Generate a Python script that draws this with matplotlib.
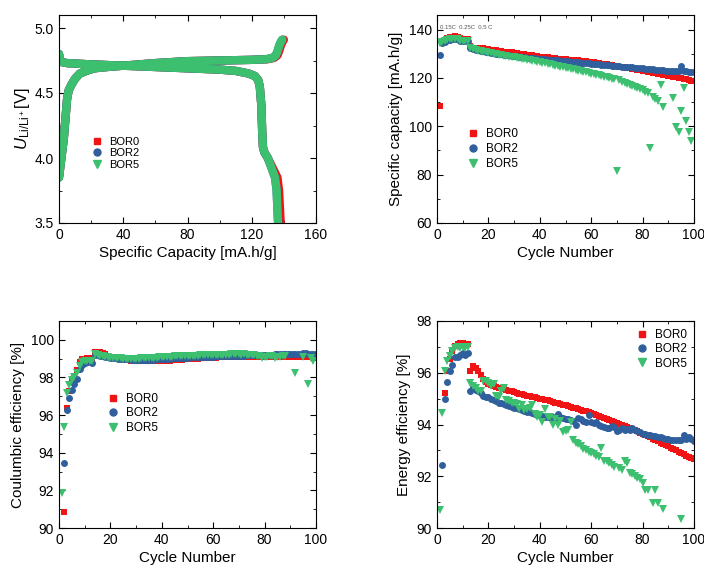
import numpy as np
import matplotlib
matplotlib.use("Agg")
import matplotlib.pyplot as plt
from matplotlib.ticker import AutoMinorLocator, MultipleLocator
from matplotlib.lines import Line2D

plt.rcParams['font.family'] = ['Liberation Sans', 'DejaVu Sans']
plt.rcParams['mathtext.fontset'] = 'custom'
plt.rcParams['mathtext.rm'] = 'Liberation Sans'
plt.rcParams['mathtext.it'] = 'Liberation Sans:italic'

names = ['BOR0', 'BOR2', 'BOR5']
colors = ['#f01414', '#2f5f9c', '#3cc070']
markers = ['s', 'o', 'v']
msizes = [4.5, 5, 5.5]

nan = np.nan
cycles = np.arange(1, 101)

# ---- voltage profiles (capacity mAh/g, voltage V)
chg_cap = {
    'BOR0': [0, 1, 2, 3, 4, 5, 6, 8, 10, 13, 17, 22, 30, 40, 60, 80, 100, 120, 130, 134, 136, 137, 138, 139, 140],
    'BOR2': [0, 1, 2, 3, 4, 5, 6, 8, 10, 13, 17, 22, 30, 40, 60, 80, 100, 120, 129, 133, 135, 136, 137, 138, 139],
    'BOR5': [0, 1, 2, 3, 4, 5, 6, 8, 10, 13, 17, 22, 30, 40, 60, 80, 100, 120, 129, 133, 135, 136, 137, 138, 139],
}
chg_v = [3.85, 3.95, 4.05, 4.15, 4.3, 4.45, 4.52, 4.57, 4.61, 4.65, 4.67, 4.69, 4.70, 4.71, 4.73,
         4.745, 4.75, 4.755, 4.76, 4.77, 4.79, 4.82, 4.86, 4.89, 4.91]
dis_cap = {
    'BOR0': [0, 0.5, 1, 5, 20, 40, 60, 80, 100, 110, 118, 122, 124, 125, 126, 126.5, 127, 128, 130, 132, 134, 136, 137, 137.6, 138],
    'BOR2': [0, 0.5, 1, 5, 20, 40, 60, 80, 100, 110, 118, 122, 124, 125, 126, 126.5, 127, 128, 130, 131.5, 133, 134.5, 135.5, 136, 136.5],
    'BOR5': [0, 0.5, 1, 5, 20, 40, 60, 80, 100, 110, 118, 122, 124, 125, 126, 126.5, 127, 128, 130, 131.5, 133, 134.5, 135.5, 136, 136.3],
}
dis_v = [4.8, 4.76, 4.74, 4.73, 4.72, 4.71, 4.70, 4.69, 4.68, 4.67, 4.65, 4.63, 4.60, 4.55, 4.4,
         4.2, 4.08, 4.04, 4.0, 3.95, 3.9, 3.85, 3.75, 3.6, 3.5]

# ---- specific capacity per cycle
cap_bor0 = [108.2, 134.5, 135.5, 136.3, 136.8, 137.0, 137.2, 137.0, 136.3, 136.2,
            136.1, 136.0, 133.0, 132.5, 132.4, 132.3, 132.2, 132.3, 132.0, 131.8,
            131.7, 131.5, 131.4, 131.2, 131.1, 130.9, 130.8, 130.6, 130.5, 130.3,
            130.2, 130.0, 129.9, 129.7, 129.6, 129.4, 129.3, 129.1, 129.0, 128.8,
            128.7, 128.6, 128.5, 128.3, 128.2, 128.1, 128.0, 127.9, 127.8, 127.7,
            127.6, 127.5, 127.4, 127.3, 127.2, 127.0, 126.9, 126.8, 126.7, 126.6,
            126.4, 126.2, 126.1, 125.9, 125.8, 125.6, 125.4, 125.2, 125.0, 124.8,
            124.6, 124.4, 124.3, 124.1, 123.9, 123.7, 123.5, 123.3, 123.1, 122.9,
            122.7, 122.5, 122.3, 122.1, 121.9, 121.7, 121.5, 121.3, 121.1, 120.9,
            120.7, 120.5, 120.3, 120.1, 119.9, 119.6, 119.4, 119.1, 118.9, 118.6]
cap_bor2 = [129.5, 134.3, 135.0, 135.5, 135.8, 136.0, 136.1, 136.0, 135.4, 135.3,
            135.3, 135.2, 132.2, 131.9, 131.6, 131.4, 131.2, 131.0, 130.8, 130.6,
            130.4, 130.2, 130.0, 129.9, 129.7, 129.6, 129.4, 129.3, 129.1, 129.0,
            128.9, 128.7, 128.6, 128.5, 128.4, 128.3, 128.2, 128.1, 128.0, 127.9,
            127.8, 127.7, 127.6, 127.5, 127.4, 127.3, 127.2, 127.1, 127.0, 126.9,
            126.8, 126.7, 126.6, 126.5, 126.4, 126.3, 126.2, 126.1, 126.0, 125.9,
            125.8, 125.7, 125.6, 125.5, 125.4, 125.3, 125.2, 125.1, 125.0, 124.9,
            124.8, 124.7, 124.6, 124.5, 124.4, 124.3, 124.2, 124.1, 124.0, 123.9,
            123.8, 123.7, 123.6, 123.5, 123.4, 123.3, 123.2, 123.1, 123.0, 123.0,
            122.9, 122.9, 122.8, 122.8, 125.0, 122.7, 122.7, 122.6, 122.6, 122.5]
cap_bor5 = [134.5, 135.0, 135.4, 135.8, 136.0, 136.1, 136.2, 136.0, 135.4, 135.3,
            135.2, 135.2, 132.4, 132.0, 131.6, 131.3, 131.0, 130.8, 130.6, 130.4,
            130.2, 130.0, 129.8, 129.6, 129.4, 129.2, 129.0, 128.8, 128.6, 128.5,
            128.3, 128.1, 127.9, 127.7, 127.5, 127.3, 127.1, 126.9, 126.7, 126.5,
            126.3, 126.0, 125.8, 125.6, 125.4, 125.1, 124.9, 124.7, 124.4, 124.2,
            124.0, 123.7, 123.5, 123.3, 123.0, 122.8, 122.6, 122.3, 122.0, 121.8,
            121.5, 121.3, 121.0, 120.8, 120.5, 120.3, 120.0, 119.7, 119.4, 81.4,
            119.2, 118.4, 118.0, 117.6, 117.2, 116.8, 116.3, 115.8, 115.3, 114.8,
            114.3, 113.8, 91.0, 112.0, 111.4, 110.3, 116.9, 108.0, nan, nan,
            nan, 111.5, 99.6, 97.5, 106.3, 116.0, 102.0, 97.7, 94.0, nan]

# ---- coulombic efficiency per cycle
ce_bor0 = [nan, 90.87, 96.4, 97.3, 97.8, 98.1, 98.4, 98.8, 99.0, 99.0,
           99.05, 99.05, 99.05, 99.35, 99.35, 99.33, 99.3, 99.25, 99.15, 99.1,
           99.05, 99.03, 99.0, 98.98, 98.96, 98.94, 98.92, 98.9, 98.89, 98.88,
           98.87, 98.86, 98.86, 98.85, 98.85, 98.85, 98.85, 98.86, 98.86, 98.87,
           98.88, 98.89, 98.9, 98.91, 98.92, 98.93, 98.94, 98.95, 98.96, 98.97,
           98.98, 98.99, 99.0, 99.0, 99.01, 99.02, 99.03, 99.04, 99.05, 99.05,
           99.06, 99.07, 99.07, 99.08, 99.08, 99.09, 99.09, 99.1, 99.1, 99.1,
           99.1, 99.1, 99.1, 99.1, 99.1, 99.1, 99.1, 99.1, 99.1, 99.1,
           99.1, 99.1, 99.1, 99.1, 99.1, 99.1, 99.1, 99.1, 99.1, 99.1,
           99.1, 99.1, 99.1, 99.1, 99.1, 99.08, 99.08, 99.07, 99.06, 99.05]
ce_bor2 = [nan, 93.45, 96.25, 96.9, 97.35, 97.65, 97.9, 98.45, 98.65, 98.75,
           98.8, 98.8, 98.75, 99.2, 99.2, 99.15, 99.12, 99.1, 99.08, 99.05,
           99.03, 99.02, 99.0, 98.99, 98.98, 98.97, 98.96, 98.95, 98.95, 98.94,
           98.94, 98.94, 98.94, 98.94, 98.94, 98.95, 98.95, 98.96, 98.96, 98.97,
           98.98, 98.99, 99.0, 99.01, 99.02, 99.03, 99.04, 99.05, 99.05, 99.06,
           99.07, 99.07, 99.08, 99.08, 99.09, 99.09, 99.1, 99.1, 99.11, 99.11,
           99.12, 99.12, 99.13, 99.13, 99.14, 99.14, 99.15, 99.15, 99.15, 99.15,
           99.16, 99.16, 99.17, 99.17, 99.18, 99.18, 99.19, 99.19, 99.2, 99.2,
           99.2, 99.21, 99.21, 99.22, 99.22, 99.23, 99.23, 99.24, 99.24, 99.25,
           99.25, 99.26, 99.26, 99.27, 99.3, 99.28, 99.27, 99.27, 99.26, 99.26]
ce_bor5 = [91.85, 95.35, 97.15, 97.6, 97.85, 98.05, 98.25, 98.6, 98.8, 98.85,
           98.88, 98.9, 98.9, 99.25, 99.2, 99.15, 99.12, 99.1, 99.08, 99.05,
           99.04, 99.03, 99.02, 99.01, 99.0, 99.0, 98.99, 98.99, 99.0, 99.0,
           99.0, 99.01, 99.01, 99.02, 99.03, 99.04, 99.05, 99.06, 99.07, 99.08,
           99.09, 99.1, 99.1, 99.11, 99.12, 99.12, 99.13, 99.13, 99.14, 99.14,
           99.15, 99.15, 99.16, 99.16, 99.17, 99.17, 99.18, 99.18, 99.19, 99.19,
           99.2, 99.2, 99.2, 99.21, 99.21, 99.21, 99.22, 99.22, 99.22, 99.22,
           99.2, 99.25, 99.2, 99.2, 99.2, 99.18, 99.15, 99.15, 99.05, 99.1,
           99.1, 99.15, 99.15, 99.05, 99.1, 99.1, 99.15, 99.15, nan, nan,
           nan, 98.25, nan, nan, 99.1, nan, 97.65, 99.05, 98.9, nan]

# ---- energy efficiency per cycle
ee_bor0 = [nan, nan, 95.2, 96.05, 96.55, 96.85, 97.05, 97.1, 97.15, 97.15,
           97.1, 97.1, 96.07, 96.25, 96.2, 96.05, 95.9, 95.75, 95.65, 95.58,
           95.52, 95.48, 95.45, 95.42, 95.4, 95.37, 95.34, 95.31, 95.28, 95.25,
           95.22, 95.19, 95.16, 95.14, 95.12, 95.1, 95.08, 95.05, 95.03, 95.0,
           94.98, 94.95, 94.93, 94.9, 94.88, 94.85, 94.82, 94.8, 94.77, 94.74,
           94.71, 94.68, 94.65, 94.62, 94.6, 94.57, 94.54, 94.51, 94.48, 94.45,
           94.41, 94.37, 94.33, 94.29, 94.25, 94.21, 94.17, 94.13, 94.09, 94.05,
           94.01, 93.97, 93.93, 93.89, 93.85, 93.81, 93.77, 93.73, 93.69, 93.65,
           93.6, 93.55, 93.5, 93.45, 93.4, 93.35, 93.3, 93.25, 93.2, 93.15,
           93.1, 93.05, 93.0, 92.95, 92.9, 92.85, 92.8, 92.75, 92.7, 92.65]
ee_bor2 = [nan, 92.44, 95.0, 95.65, 96.05, 96.3, 96.6, 96.6, 96.7, 96.75,
           96.7, 96.75, 95.3, 95.45, 95.35, 95.3, 95.2, 95.12, 95.08, 95.05,
           94.98, 94.95, 94.9, 94.85, 94.82, 94.78, 94.75, 94.72, 94.68, 94.65,
           94.62, 94.6, 94.55, 94.52, 94.5, 94.48, 94.45, 94.4, 94.38, 94.35,
           94.32, 94.3, 94.3, 94.28, 94.3, 94.25, 94.4, 94.3, 94.25, 94.2,
           94.22, 94.18, 94.15, 94.0, 94.25, 94.2, 94.15, 94.1, 94.35, 94.1,
           94.05, 94.08, 94.0, 93.95, 93.9, 93.85, 93.85, 93.95, 93.9, 93.75,
           93.8, 93.85, 93.8, 93.82, 93.8, 93.85, 93.8, 93.75, 93.7, 93.65,
           93.62, 93.6, 93.58, 93.55, 93.55, 93.5, 93.5, 93.48, 93.45, 93.45,
           93.42, 93.4, 93.42, 93.4, 93.4, 93.6, 93.45, 93.5, 93.45, 93.35]
ee_bor5 = [90.7, 94.45, 96.05, 96.45, 96.65, 96.85, 96.95, 97.0, 96.95, 97.0,
           96.95, 97.0, 95.6, 95.5, 95.4, 95.3, 95.3, 95.7, 95.7, 95.6,
           95.5, 95.55, 95.1, 95.05, 95.3, 95.4, 94.95, 94.9, 94.85, 94.85,
           94.8, 94.6, 94.75, 94.55, 94.6, 94.65, 94.75, 94.4, 94.3, 94.35,
           94.1, 94.6, 94.3, 94.3, 94.0, 94.2, 94.0, 94.15, 93.7, 93.75,
           93.8, 94.1, 93.4, 93.3, 93.25, 93.15, 93.05, 93.0, 92.95, 92.9,
           92.85, 92.8, 92.75, 93.1, 92.6, 92.6, 92.5, 92.45, 92.37, nan,
           92.3, 92.25, 92.6, 92.5, 92.12, 92.1, 92.0, 91.95, 91.9, 91.75,
           91.47, 91.47, nan, 90.96, 91.47, 90.95, nan, 90.74, nan, nan,
           nan, nan, nan, nan, 90.36, nan, nan, nan, nan, nan]

fig = plt.figure(figsize=(7.04, 5.68), dpi=100)
W, H = 704, 568


def make_ax(x0, y_top, y_bot, w=257):
    return fig.add_axes([x0 / W, 1 - y_bot / H, w / W, (y_bot - y_top) / H])


def style(ax):
    ax.xaxis.set_minor_locator(AutoMinorLocator(2))
    ax.yaxis.set_minor_locator(AutoMinorLocator(2))
    ax.tick_params(which='both', direction='in', top=True, right=True, labelsize=10)
    ax.tick_params(which='major', length=4)
    ax.tick_params(which='minor', length=2)
    for s in ax.spines.values():
        s.set_linewidth(0.8)


def add_legend(ax, anchor, fs=8.5, sp=0.25):
    handles = [Line2D([], [], ls='none', marker=m, color=c, ms=ms)
               for m, c, ms in zip(markers, colors, msizes)]
    ax.legend(handles, names, loc='upper left', bbox_to_anchor=anchor, frameon=False,
              fontsize=fs, handlelength=1.0, handletextpad=0.6, labelspacing=sp,
              borderaxespad=0)


# -- panel 1: voltage profiles
ax1 = make_ax(59, 15, 223)
for n, c in zip(names, colors):
    ax1.plot(chg_cap[n], chg_v, color=c, lw=6, solid_capstyle='round', solid_joinstyle='round')
    ax1.plot(dis_cap[n], dis_v, color=c, lw=6, solid_capstyle='round', solid_joinstyle='round')
ax1.set_xlim(0, 160)
ax1.set_ylim(3.5, 5.1)
ax1.xaxis.set_major_locator(MultipleLocator(40))
ax1.yaxis.set_major_locator(MultipleLocator(0.5))
ax1.yaxis.set_major_formatter('{x:.1f}')
ax1.set_xlabel('Specific Capacity [mA.h/g]', fontsize=11, labelpad=3)
ax1.set_ylabel(r'$U_{\mathrm{Li/Li^+}}$[V]', fontsize=12, labelpad=2)
style(ax1)
add_legend(ax1, (0.11, 0.435), fs=8, sp=0.12)

# -- panel 2: specific capacity
ax2 = make_ax(437, 15, 223)
for vals, c, m, ms in zip([cap_bor0, cap_bor2, cap_bor5], colors, markers, msizes):
    ax2.plot(cycles, vals, ls='none', marker=m, color=c, ms=ms, mew=0)
ax2.set_xlim(0, 100)
ax2.set_ylim(60, 146)
ax2.xaxis.set_major_locator(MultipleLocator(20))
ax2.yaxis.set_major_locator(MultipleLocator(20))
ax2.text(1.2, 140.8, '0.15C  0.25C  0.5 C', fontsize=4.3, color='#555555', va='center')
ax2.set_xlabel('Cycle Number', fontsize=11, labelpad=3)
ax2.set_ylabel('Specific capacity [mA.h/g]', fontsize=11, labelpad=4)
style(ax2)
add_legend(ax2, (0.1, 0.48))

# -- panel 3: coulombic efficiency
ax3 = make_ax(59, 321, 528)
for vals, c, m, ms in zip([ce_bor0, ce_bor2, ce_bor5], colors, markers, msizes):
    ax3.plot(cycles, vals, ls='none', marker=m, color=c, ms=ms, mew=0)
ax3.set_xlim(0, 100)
ax3.set_ylim(90, 101)
ax3.xaxis.set_major_locator(MultipleLocator(20))
ax3.yaxis.set_major_locator(MultipleLocator(2))
ax3.set_xlabel('Cycle Number', fontsize=11, labelpad=3)
ax3.set_ylabel('Coulumbic efficiency [%]', fontsize=11, labelpad=4)
style(ax3)
add_legend(ax3, (0.17, 0.675), sp=0.2)

# -- panel 4: energy efficiency
ax4 = make_ax(437, 321, 528)
for vals, c, m, ms in zip([ee_bor0, ee_bor2, ee_bor5], colors, markers, msizes):
    ax4.plot(cycles, vals, ls='none', marker=m, color=c, ms=ms, mew=0)
ax4.set_xlim(0, 100)
ax4.set_ylim(90, 98)
ax4.xaxis.set_major_locator(MultipleLocator(20))
ax4.yaxis.set_major_locator(MultipleLocator(2))
ax4.set_xlabel('Cycle Number', fontsize=11, labelpad=3)
ax4.set_ylabel('Energy efficiency [%]', fontsize=11, labelpad=4)
style(ax4)
add_legend(ax4, (0.755, 0.985), sp=0.2)

fig.savefig('out.png', dpi=100)
